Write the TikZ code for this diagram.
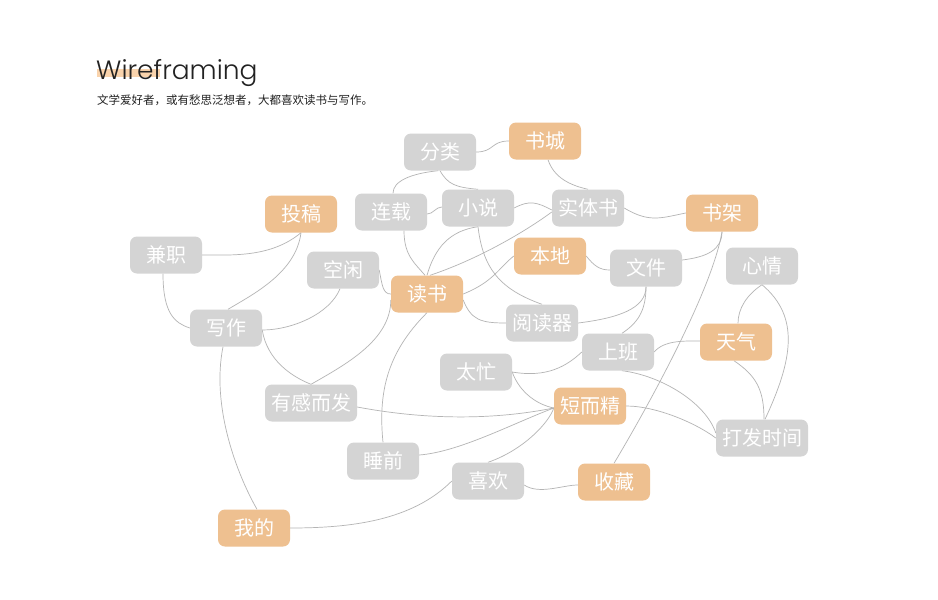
\documentclass[tikz,border=0pt]{standalone}
\usepackage{fontspec}
\setmainfont{Noto Sans CJK SC}
\newfontfamily\titlefont{Poppins}[UprightFont={* Light}]
\usetikzlibrary{backgrounds}
\definecolor{boxgray}{HTML}{D4D4D4}
\definecolor{boxorange}{HTML}{EEC090}
\definecolor{edgegray}{HTML}{B4B4B4}
\definecolor{titlecol}{HTML}{222222}
\definecolor{hlcol}{HTML}{F9D3AC}
\tikzset{
  box/.style={rectangle, rounded corners=7pt, minimum width=72pt, minimum height=37pt, inner sep=0pt, text=white, font=\fontsize{20}{20}\selectfont},
  gbox/.style={box, fill=boxgray},
  obox/.style={box, fill=boxorange},
  edge/.style={draw=edgegray, line width=0.7pt}
}
\begin{document}
\begin{tikzpicture}[x=1pt,y=-1pt]
\useasboundingbox (0,0) rectangle (938,600);
% title
\node[anchor=base west, inner sep=0pt, text=titlecol, font=\titlefont\fontsize{26.5}{26.5}\selectfont] (title) at (96,79) {Wireframing};
\node[anchor=base west, inner sep=0pt, text=titlecol, font=\fontsize{11.5}{11.5}\selectfont] (sub) at (97,104) {文学爱好者，或有愁思泛想者，大都喜欢读书与写作。};
% nodes
\node[gbox] (fl) at (440,152) {分类};
\node[obox] (sc) at (545,141) {书城};
\node[gbox] (lz) at (391,212) {连载};
\node[gbox] (xs) at (478,208) {小说};
\node[gbox] (st) at (588,208) {实体书};
\node[obox] (sj) at (722,213) {书架};
\node[obox] (tg) at (301,214) {投稿};
\node[gbox] (jz) at (166,255) {兼职};
\node[gbox] (kx) at (343,270) {空闲};
\node[obox] (ds) at (427,294) {读书};
\node[obox] (bd) at (550,256) {本地};
\node[gbox] (wj) at (646,268) {文件};
\node[gbox] (xq) at (762,266) {心情};
\node[gbox] (xz) at (226,328) {写作};
\node[gbox] (yd) at (542,323) {阅读器};
\node[gbox] (sb) at (618,352) {上班};
\node[obox] (tq) at (736,342) {天气};
\node[gbox] (tm) at (476,372) {太忙};
\node[gbox, minimum width=92pt] (yg) at (311,403) {有感而发};
\node[obox] (dj) at (590,406) {短而精};
\node[gbox, minimum width=92pt] (df) at (762,438) {打发时间};
\node[gbox] (sq) at (383,461) {睡前};
\node[gbox] (xh) at (488,481) {喜欢};
\node[obox] (scg) at (614,482) {收藏};
\node[obox] (wd) at (254,528) {我的};
% edges
\begin{scope}[on background layer]
\fill[white] (0,0) rectangle (938,600);
\fill[hlcol] (97,69) rectangle (160,77);
\draw[edge] (fl.east) .. controls +(18,0) and +(-18,0) .. (sc.west);
\draw[edge] ([xshift=-2pt]fl.south) .. controls +(-28,3) and +(0,-12) .. ([xshift=2pt]lz.north);
\draw[edge] (fl.south) .. controls +(8,14) and +(-22,-2) .. (xs.north);
\draw[edge] ([xshift=3pt]sc.south) .. controls +(6,18) and +(-18,-4) .. (st.north);
\draw[edge] ([yshift=-2pt]lz.east) .. controls +(6,0) and +(-6,0) .. ([yshift=1pt]xs.west);
\draw[edge] (xs.east) .. controls +(15,-8) and +(-15,-8) .. ([yshift=-2pt]st.west);
\draw[edge] (st.east) .. controls +(25,15) and +(-25,5) .. (sj.west);
\draw[edge] ([xshift=13pt]lz.south) .. controls +(0,25) and +(-10,-12) .. ([xshift=-2pt]ds.north);
\draw[edge] (ds.north) .. controls +(8,-28) and +(-28,4) .. (xs.south);
\draw[edge] ([xshift=3pt]ds.north) .. controls +(45,-15) and +(-30,22) .. ([yshift=-4pt]st.west);
\draw[edge] (xs.south) .. controls +(5,42) and +(-42,-15) .. (yd.north);
\draw[edge] (ds.east) .. controls +(30,-12) and +(-15,12) .. (bd.west);
\draw[edge] ([yshift=-6pt]ds.east) .. controls +(8,20) and +(-25,0) .. (yd.west);
\draw[edge] (bd.east) .. controls +(8,10) and +(-10,0) .. ([yshift=-2pt]wj.west);
\draw[edge] ([yshift=8pt]wj.east) .. controls +(25,-3) and +(0,18) .. (sj.south);
\draw[edge] (yd.east) .. controls +(40,-5) and +(0,22) .. (wj.south);
\draw[edge] (wj.south) .. controls +(0,25) and +(15,-10) .. ([xshift=4pt]sb.north);
\draw[edge] (sj.south) .. controls +(-10,60) and +(30,-50) .. (scg.north);
\draw[edge] (xq.south) .. controls +(-15,10) and +(0,-15) .. ([xshift=2pt]tq.north);
\draw[edge] (xq.south) .. controls +(38,32) and +(28,-60) .. ([xshift=3pt]df.north);
\draw[edge] ([xshift=-2pt]tq.south) .. controls +(22,15) and +(0,-30) .. ([xshift=2pt]df.north);
\draw[edge] (sb.east) .. controls +(10,-12) and +(-15,0) .. ([yshift=1pt]tq.west);
\draw[edge] (tm.east) .. controls +(35,6) and +(-15,14) .. (sb.west);
\draw[edge] (tm.east) .. controls +(8,22) and +(-15,-3) .. ([yshift=-2pt]dj.west);
\draw[edge] ([xshift=4pt]sb.south) .. controls +(40,5) and +(-10,-30) .. ([yshift=5pt]df.west);
\draw[edge] (dj.east) .. controls +(30,0) and +(-20,-15) .. (df.west);
\draw[edge] ([yshift=-4pt]yg.east) .. controls +(80,15) and +(-50,10) .. ([yshift=-2pt]dj.west);
\draw[edge] ([yshift=6pt]sq.east) .. controls +(40,-3) and +(-40,15) .. ([yshift=-2pt]dj.west);
\draw[edge] (xh.north) .. controls +(35,-12) and +(-5,15) .. ([yshift=-2pt]dj.west);
\draw[edge] ([yshift=-4pt]xh.east) .. controls +(15,10) and +(-15,0) .. ([yshift=-3pt]scg.west);
\draw[edge] (xh.west) .. controls +(-40,40) and +(60,0) .. (wd.east);
\draw[edge] ([xshift=-3pt]xz.south) .. controls +(-12,60) and +(-20,-35) .. ([xshift=3pt]wd.north);
\draw[edge] ([yshift=-2pt]xz.east) .. controls +(5,30) and +(-20,-8) .. (yg.north);
\draw[edge] ([yshift=-6pt]ds.west) .. controls +(0,40) and +(35,-20) .. (yg.north);
\draw[edge] (ds.south) .. controls +(-40,40) and +(-5,-50) .. (sq.north);
\draw[edge] (kx.east) .. controls +(3,15) and +(-8,0) .. (ds.west);
\draw[edge] ([xshift=-3pt]kx.south) .. controls +(-10,25) and +(30,0) .. ([yshift=-2pt]xz.east);
\draw[edge] (tg.south) .. controls +(-5,40) and +(25,-15) .. ([xshift=2pt]xz.north);
\draw[edge] (tg.south) .. controls +(-30,25) and +(30,0) .. (jz.east);
\draw[edge] ([xshift=-3pt]jz.south) .. controls +(0,40) and +(-15,-5) .. (xz.west);
\end{scope}
\end{tikzpicture}
\end{document}
